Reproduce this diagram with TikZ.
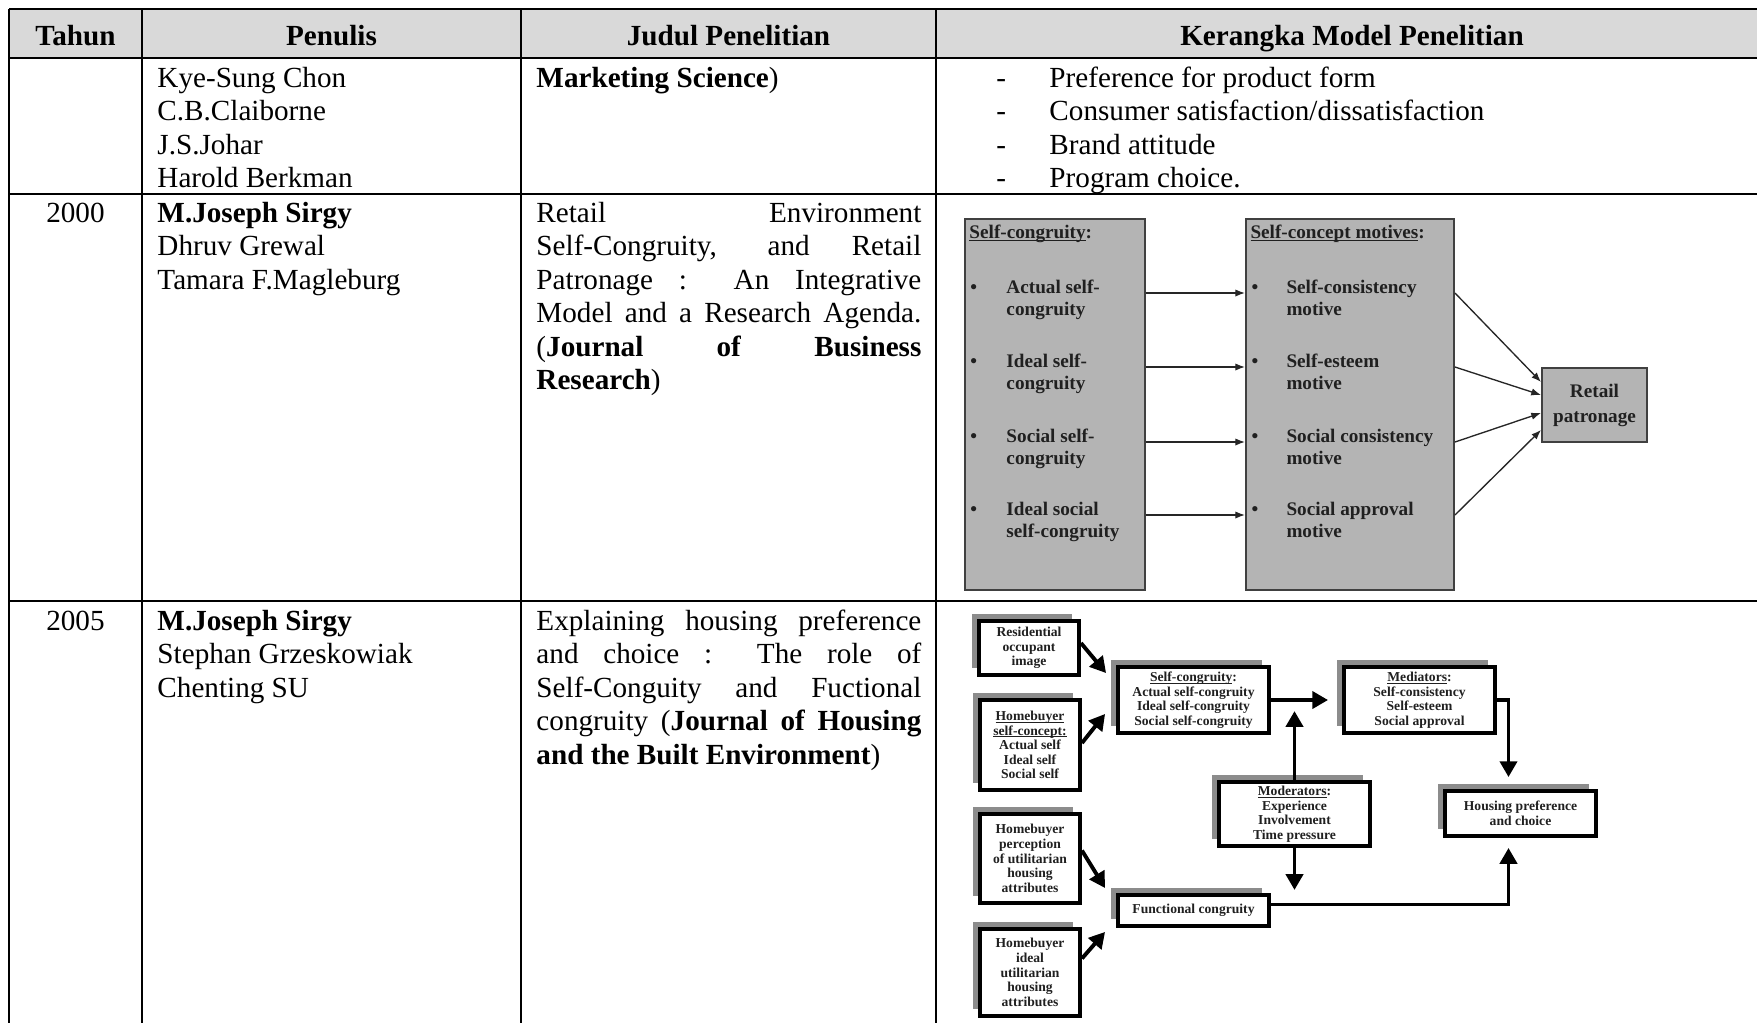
\documentclass[tikz,border=0pt]{standalone}
\usepackage{fontspec}
\setmainfont{Liberation Serif}
\usetikzlibrary{arrows.meta,shadows,calc}

% one drawing unit = one pixel of the page image
\newcommand\pxlen{0.41152pt}
% underline at a fixed depth below the baseline
\newcommand\myul[1]{\setbox0=\hbox{#1}\rlap{\rule[-0.16em]{\wd0}{0.07em}}\box0}

\definecolor{hdrgray}{HTML}{D9D9D9}
\definecolor{boxgray}{HTML}{B4B4B4}
\definecolor{inkgray}{HTML}{202020}
\definecolor{shadowgray}{HTML}{8C8C8C}

\tikzset{
  tbl/.style={line width=0.75pt, black},
  hdr/.style={font=\fontsize{12}{13.8}\selectfont\bfseries, anchor=base, inner sep=0},
  cell/.style={font=\fontsize{12}{13.8}\selectfont, anchor=base west, inner sep=0},
  sized/.style 2 args={minimum width=#1*\pxlen, minimum height=#2*\pxlen},
  box1/.style={draw=black!75, line width=0.8pt, fill=boxgray, inner sep=0},
  d1/.style={font=\fontsize{7.9}{10.3}\selectfont\bfseries, text=inkgray, anchor=base west, inner sep=0},
  arr1/.style={line width=0.55pt, black!85, -{Latex[length=4pt,width=3pt]}},
  box2/.style={draw=black, line width=1.6pt, fill=white, inner sep=0, align=center,
    font=\fontsize{5.6}{6}\selectfont\bfseries, text=inkgray,
    general shadow={fill=shadowgray, shadow xshift=-2.9pt, shadow yshift=2.9pt}},
  arr2/.style={line width=1.6pt, black, -{Triangle[length=6.5pt,width=7pt]}},
}

\begin{document}
\begin{tikzpicture}[x=0.41152pt, y=-0.41152pt]
\useasboundingbox (0,0) rectangle (1757,1023);
\fill[white] (0,0) rectangle (1757,1023);

% ---------- table grid ----------
\fill[hdrgray] (9,9) rectangle (1757,58);
\foreach \yy in {9,58,194,601} \draw[tbl] (9,\yy) -- (1757,\yy);
\foreach \xx in {9,142,521,936} \draw[tbl] (\xx,9) -- (\xx,1023);

% ---------- header ----------
\node[hdr] (h1) at (75.5,45) {Tahun};
\node[hdr] (h2) at (331.5,45) {Penulis};
\node[hdr] (h3) at (728.5,45) {Judul Penelitian};
\node[hdr] (h4) at (1352,45) {Kerangka Model Penelitian};

% ---------- row 1 ----------
\node[cell] (p1a) at (157,87) {Kye-Sung Chon};
\node[cell] (p1b) at (157,120.5) {C.B.Claiborne};
\node[cell] (p1c) at (157,154) {J.S.Johar};
\node[cell] (p1d) at (157,187.5) {Harold Berkman};
\node[cell] (j1a) at (536,87) {\textbf{Marketing Science})};
\foreach \yy/\tt [count=\i] in {87/Preference for product form,
    120.5/Consumer satisfaction\slash dissatisfaction,
    154/Brand attitude, 187.5/Program choice.} {
  \node[cell] (kd\i) at (996,\yy) {-};
  \node[cell] (kt\i) at (1049,\yy) {\tt};
}

% ---------- row 2 ----------
\node[cell, anchor=base] (y2) at (75.5,222) {2000};
\node[cell] (p2a) at (157,222) {\textbf{M.Joseph Sirgy}};
\node[cell] (p2b) at (157,255.5) {Dhruv Grewal};
\node[cell] (p2c) at (157,289) {Tamara F.Magleburg};
\node[cell] (j2a) at (536,222) {\makebox[158.4pt][s]{Retail Environment}};
\node[cell] (j2b) at (536,255.5) {\makebox[158.4pt][s]{Self-Congruity, and Retail}};
\node[cell] (j2c) at (536,289) {\makebox[158.4pt][s]{Patronage : An Integrative}};
\node[cell] (j2d) at (536,322.5) {\makebox[158.4pt][s]{Model and a Research Agenda.}};
\node[cell] (j2e) at (536,356) {\makebox[158.4pt][s]{(\textbf{Journal} \textbf{of} \textbf{Business}}};
\node[cell] (j2f) at (536,389.5) {\textbf{Research})};

% first model: self-congruity -> self-concept motives -> retail patronage
\node[box1, sized={180}{371}] (A) at (1055,404.5) {};
\node[box1, sized={208}{371}] (B) at (1350,404.5) {};
\node[box1, sized={105}{74}, align=center, font=\fontsize{7.9}{10.3}\selectfont\bfseries, text=inkgray] (C) at (1594.5,405) {Retail\\patronage};

\node[d1] (a0) at (969,238) {\myul{Self-congruity}:};
\node[d1] (b0) at (1250,238) {\myul{Self-concept motives}:};
\foreach \yy/\ta/\tb [count=\i] in {293/Actual self-/congruity, 367/Ideal self-/congruity,
    442/Social self-/congruity, 515/Ideal social/self-congruity} {
  \node[d1] (ab\i) at (970,\yy) {\textbullet};
  \node[d1] (at\i) at (1006,\yy) {\ta};
  \node[d1] (au\i) at (1006,\yy+22) {\tb};
}
\foreach \yy/\ta [count=\i] in {293/Self-consistency, 367/Self-esteem,
    442/Social consistency, 515/Social approval} {
  \node[d1] (bb\i) at (1251,\yy) {\textbullet};
  \node[d1] (bt\i) at (1286,\yy) {\ta};
  \node[d1] (bu\i) at (1286,\yy+22) {motive};
}
\foreach \i in {1,...,4}
  \draw[arr1] (A.east |- bb\i.base) -- (B.west |- bb\i.base);
\draw[arr1] (B.east |- bb1.base) -- ([shift={(0,-23)}]C.west);
\draw[arr1] (B.east |- bb2.base) -- ([shift={(0,-10)}]C.west);
\draw[arr1] (B.east |- bb3.base) -- ([shift={(0,8)}]C.west);
\draw[arr1] (B.east |- bb4.base) -- ([shift={(0,25)}]C.west);

% ---------- row 3 ----------
\node[cell, anchor=base] (y3) at (75.5,630) {2005};
\node[cell] (p3a) at (157,630) {\textbf{M.Joseph Sirgy}};
\node[cell] (p3b) at (157,663.5) {Stephan Grzeskowiak};
\node[cell] (p3c) at (157,697) {Chenting SU};
\node[cell] (j3a) at (536,630) {\makebox[158.4pt][s]{Explaining housing preference}};
\node[cell] (j3b) at (536,663.5) {\makebox[158.4pt][s]{and choice : The role of}};
\node[cell] (j3c) at (536,697) {\makebox[158.4pt][s]{Self-Conguity and Fuctional}};
\node[cell] (j3d) at (536,730.5) {\makebox[158.4pt][s]{congruity (\textbf{Journal of Housing}}};
\node[cell] (j3e) at (536,764) {\textbf{and the Built Environment})};

% second model: housing preference and choice
\node[box2, sized={100}{54}] (r1) at (1029,648) {Residential\\occupant\\image};
\node[box2, sized={100}{90}] (r2) at (1030,745) {\myul{Homebuyer}\\\myul{self-concept:}\\Actual self\\Ideal self\\Social self};
\node[box2, sized={100}{89}] (r3) at (1030,858.5) {Homebuyer\\perception\\of utilitarian\\housing\\attributes};
\node[box2, sized={100}{87}] (r4) at (1030,972.5) {Homebuyer\\ideal\\utilitarian\\housing\\attributes};
\node[box2, sized={151}{66}] (sc) at (1193.5,700) {\myul{Self-congruity}:\\Actual self-congruity\\Ideal self-congruity\\Social self-congruity};
\node[box2, sized={151}{31}] (fc) at (1193.5,910.5) {Functional congruity};
\node[box2, sized={151}{64}] (mod) at (1294.5,814) {\myul{Moderators}:\\Experience\\Involvement\\Time pressure};
\node[box2, sized={151}{66}] (med) at (1419.5,700) {\myul{Mediators}:\\Self-consistency\\Self-esteem\\Social approval};
\node[box2, sized={151}{45}] (hp) at (1520.5,813.5) {Housing preference\\and choice};

\draw[arr2] ([shift={(0,-5)}]r1.east) -- ([shift={(-10,8)}]sc.north west);
\draw[arr2] ([shift={(0,-2)}]r2.east) -- ([shift={(-11,-21)}]sc.south west);
\draw[arr2] ([shift={(0,-8)}]r3.east) -- ([shift={(-11,-5)}]fc.north west);
\draw[arr2] ([shift={(0,-14)}]r4.east) -- ([shift={(-11,4)}]fc.south west);
\draw[arr2] (sc.east) -- ([shift={(-14,0)}]med.west);
\draw[arr2] (mod.north) -- ([shift={(0,-69)}]mod.north);
\draw[arr2] (mod.south) -- ([shift={(0,42)}]mod.south);
\draw[arr2] ([shift={(0,-6)}]fc.east) -| ([shift={(-12,10)}]hp.south);
\draw[arr2] (med.east) -| ([shift={(-12,-12)}]hp.north);
\end{tikzpicture}
\end{document}
